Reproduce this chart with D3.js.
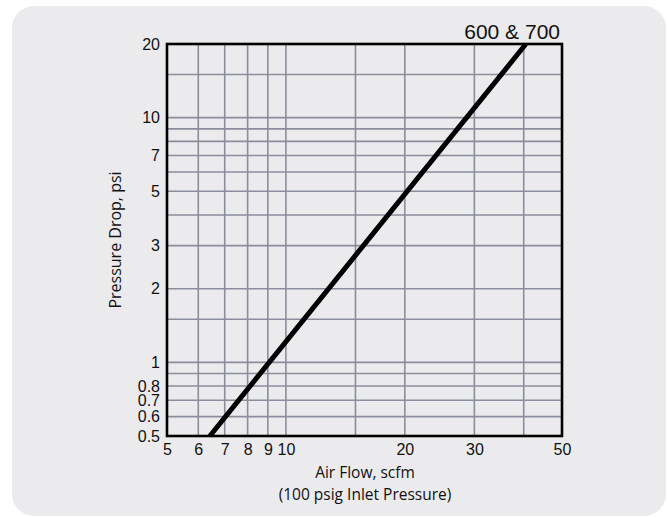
<!DOCTYPE html>
<html>
<head>
<meta charset="utf-8">
<script src="https://cdn.jsdelivr.net/npm/d3@7"></script>
<style>
  html, body { margin: 0; padding: 0; background: #ffffff; }
  svg { display: block; }
</style>
</head>
<body>
<svg id="chart" width="667" height="517"></svg>
<script>
// ---- data ----
const seriesName = "600 & 700";
const airFlow = [6.42, 40.5];          // scfm
const pressureDrop = [0.5, 20];        // psi
const xDomain = [5, 50];
const yDomain = [0.5, 20];
const xTickLabels = [5, 6, 7, 8, 9, 10, 20, 30, 50];
const yTickLabels = [20, 10, 7, 5, 3, 2, 1, 0.8, 0.7, 0.6, 0.5];
const xGrid = [6, 7, 8, 9, 10, 15, 20, 30, 40];
const yGrid = [15, 10, 9, 8, 7, 6, 5, 4, 3, 2, 1.5, 1, 0.9, 0.8, 0.7, 0.6];
const xTitle = "Air Flow, scfm";
const xSubTitle = "(100 psig Inlet Pressure)";
const yTitle = "Pressure Drop, psi";

// ---- layout ----
const svg = d3.select("#chart");
const plot = { left: 167, right: 562, top: 44, bottom: 436 };

svg.append("rect")
  .attr("x", 12).attr("y", 6)
  .attr("width", 654).attr("height", 510)
  .attr("rx", 22).attr("ry", 22)
  .attr("fill", "#ebebed");

const x = d3.scaleLog().domain(xDomain).range([plot.left, plot.right]);
const y = d3.scaleLog().domain(yDomain).range([plot.bottom, plot.top]);

const gridColor = "#8a8d9b";

// grid
svg.append("g").selectAll("line.v").data(xGrid).join("line")
  .attr("x1", d => x(d)).attr("x2", d => x(d))
  .attr("y1", plot.top).attr("y2", plot.bottom)
  .attr("stroke", gridColor).attr("stroke-width", 1.6);

svg.append("g").selectAll("line.h").data(yGrid).join("line")
  .attr("x1", plot.left).attr("x2", plot.right)
  .attr("y1", d => y(d)).attr("y2", d => y(d))
  .attr("stroke", gridColor).attr("stroke-width", 1.6);

// axes (labels only)
const fmt = d => String(d);
const xAxis = svg.append("g")
  .attr("transform", `translate(0,${plot.bottom})`)
  .call(d3.axisBottom(x).tickValues(xTickLabels).tickFormat(fmt).tickSize(0).tickPadding(8));
const yAxis = svg.append("g")
  .attr("transform", `translate(${plot.left},0)`)
  .call(d3.axisLeft(y).tickValues(yTickLabels).tickFormat(fmt).tickSize(0).tickPadding(7));
[xAxis, yAxis].forEach(g => {
  g.select(".domain").remove();
  g.selectAll("text")
    .attr("font-family", "'Liberation Sans', Arial, sans-serif")
    .attr("font-size", 16)
    .attr("fill", "#111");
});

// frame
svg.append("rect")
  .attr("x", plot.left).attr("y", plot.top)
  .attr("width", plot.right - plot.left).attr("height", plot.bottom - plot.top)
  .attr("fill", "none").attr("stroke", "#000").attr("stroke-width", 2.6);

// series line
const pts = airFlow.map((q, i) => [q, pressureDrop[i]]);
svg.append("path")
  .datum(pts)
  .attr("d", d3.line().x(d => x(d[0])).y(d => y(d[1])))
  .attr("fill", "none").attr("stroke", "#000").attr("stroke-width", 5);

// series label
svg.append("text")
  .attr("x", plot.right - 2).attr("y", 39)
  .attr("text-anchor", "end")
  .attr("font-family", "'Liberation Sans', Arial, sans-serif")
  .attr("font-size", 21)
  .attr("fill", "#111")
  .text(seriesName);

// titles
const titleFont = "'Open Sans', 'Noto Sans', sans-serif";
svg.append("text")
  .attr("x", 365).attr("y", 478)
  .attr("text-anchor", "middle")
  .attr("font-family", titleFont).attr("font-size", 15.5).attr("fill", "#111")
  .text(xTitle);
svg.append("text")
  .attr("x", 365).attr("y", 500)
  .attr("text-anchor", "middle")
  .attr("font-family", titleFont).attr("font-size", 15.5).attr("fill", "#111")
  .text(xSubTitle);
svg.append("text")
  .attr("transform", "translate(121,240) rotate(-90)")
  .attr("text-anchor", "middle")
  .attr("font-family", titleFont).attr("font-size", 16).attr("fill", "#111")
  .text(yTitle);
</script>
</body>
</html>
